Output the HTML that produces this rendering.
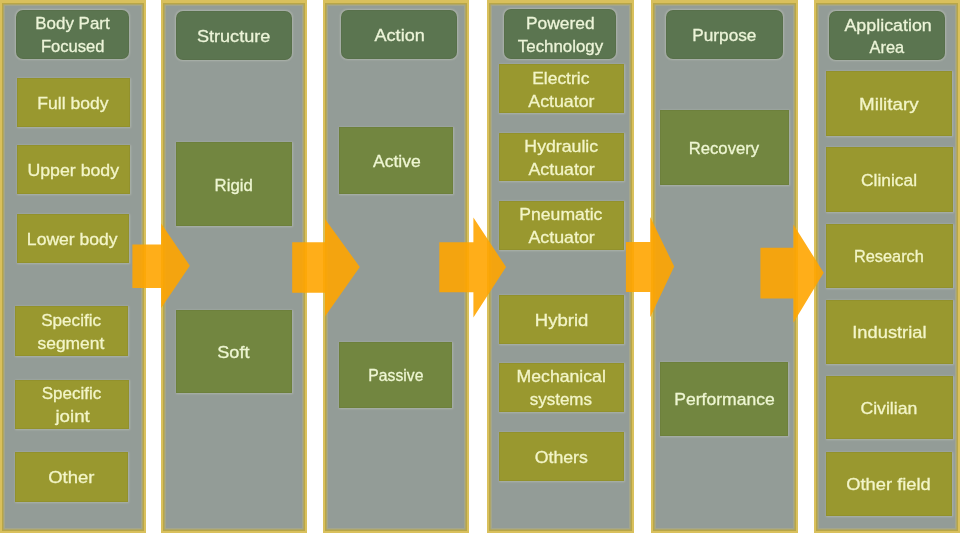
<!DOCTYPE html>
<html><head><meta charset="utf-8"><style>
html,body{margin:0;padding:0;background:#fff;}
body{width:960px;height:533px;position:relative;overflow:hidden;font-family:"Liberation Sans",sans-serif;}
.col{position:absolute;top:0;height:533.5px;box-sizing:border-box;background:#939c97;
 border:2.5px solid #d9c05c;border-top-width:3px;border-bottom-width:3px;
 box-shadow:inset 0 0 0 1.5px #b8a648, inset 0 0 0 3px #a4a68c;}
.b{position:absolute;display:flex;align-items:center;justify-content:center;flex-direction:column;
 color:#eef6d2;font-size:17px;line-height:22.5px;text-align:center;}
.t{background:#5b7550;border-radius:7px;color:#ecf4d8;}
.b{box-shadow:0 0 2px 0.5px rgba(205,208,195,0.45), inset 0 0 0 1px rgba(60,60,20,0.07);}
.o{color:#f3f5c8;}
.b span{display:block;white-space:nowrap;position:relative;top:1.7px;-webkit-text-stroke:0.3px currentColor;}
#w{position:absolute;left:0;top:0;width:960px;height:533px;will-change:transform;}
</style></head><body><div id="w">

<div class="col" style="left:0px;width:146px"></div>
<div class="col" style="left:160.7px;width:146.5px"></div>
<div class="col" style="left:322.8px;width:146.4px"></div>
<div class="col" style="left:487.1px;width:147.2px"></div>
<div class="col" style="left:651px;width:146.7px"></div>
<div class="col" style="left:814.4px;width:145.6px"></div>
<div class="b t" style="left:16px;top:9.8px;width:113.2px;height:48.8px"><span style="transform:translateX(0.15px) scaleX(0.996)">Body Part</span><span style="transform:translateX(0.15px) scaleX(0.976)">Focused</span></div>
<div class="b t" style="left:175.5px;top:11px;width:116.8px;height:49px"><span style="transform:translateX(0.13px) scaleX(1.063)">Structure</span></div>
<div class="b t" style="left:341.1px;top:9.7px;width:115.9px;height:49.1px"><span style="transform:translateX(1.02px) scaleX(1.063)">Action</span></div>
<div class="b t" style="left:503.9px;top:9.3px;width:112.2px;height:49.3px"><span style="transform:translateX(0.71px) scaleX(1.022)">Powered</span><span style="transform:translateX(0.50px) scaleX(0.993)">Technology</span></div>
<div class="b t" style="left:665.8px;top:9.7px;width:117.2px;height:49.1px"><span style="transform:translateX(-0.30px) scaleX(1.013)">Purpose</span></div>
<div class="b t" style="left:829.4px;top:11.3px;width:116.1px;height:48.6px"><span style="transform:translateX(0.52px) scaleX(1.051)">Application</span><span style="transform:translateX(-0.07px) scaleX(0.964)">Area</span></div>
<div class="b o" style="left:17px;top:78.1px;width:113px;height:48.8px;background:#99982f"><span style="transform:translateX(-0.57px) scaleX(1.031)">Full body</span></div>
<div class="b o" style="left:17px;top:144.8px;width:113px;height:48.9px;background:#99982f"><span style="transform:translateX(-0.69px) scaleX(1.043)">Upper body</span></div>
<div class="b o" style="left:16.5px;top:213.8px;width:112.5px;height:49.2px;background:#99982f"><span style="transform:translateX(-0.72px) scaleX(1.032)">Lower body</span></div>
<div class="b o" style="left:14.6px;top:306.3px;width:113.4px;height:49.3px;background:#99982f"><span style="transform:translateX(-0.65px) scaleX(1.005)">Specific</span><span style="transform:translateX(-0.67px) scaleX(1.023)">segment</span></div>
<div class="b o" style="left:14.6px;top:379.5px;width:114.3px;height:49px;background:#99982f"><span style="transform:translateX(-0.20px) scaleX(1.000)">Specific</span><span style="transform:translateX(0.98px) scaleX(1.100)">joint</span></div>
<div class="b o" style="left:15.1px;top:452.2px;width:112.9px;height:49.7px;background:#99982f"><span style="transform:translateX(0.05px) scaleX(1.085)">Other</span></div>
<div class="b" style="left:175.7px;top:142.4px;width:116.3px;height:83.6px;background:#728640"><span style="transform:translateX(0.35px) scaleX(0.986)">Rigid</span></div>
<div class="b" style="left:175.7px;top:309.7px;width:116.3px;height:83.6px;background:#728640"><span style="transform:translateX(-0.79px) scaleX(1.066)">Soft</span></div>
<div class="b" style="left:339.4px;top:127.1px;width:113.5px;height:66.9px;background:#728640"><span style="transform:translateX(0.72px) scaleX(1.036)">Active</span></div>
<div class="b" style="left:339.4px;top:341.7px;width:113.1px;height:66px;background:#728640"><span style="transform:translateX(0.15px) scaleX(0.926)">Passive</span></div>
<div class="b o" style="left:499px;top:64.2px;width:124.5px;height:49.3px;background:#99982f"><span style="transform:translateX(-0.09px) scaleX(1.026)">Electric</span><span style="transform:translateX(-0.26px) scaleX(1.046)">Actuator</span></div>
<div class="b o" style="left:499.3px;top:132.5px;width:124.4px;height:48.7px;background:#99982f"><span style="transform:translateX(-0.20px) scaleX(1.041)">Hydraulic</span><span style="transform:translateX(-0.05px) scaleX(1.046)">Actuator</span></div>
<div class="b o" style="left:499.3px;top:200.9px;width:124.4px;height:48.7px;background:#99982f"><span style="transform:translateX(-0.30px) scaleX(1.033)">Pneumatic</span><span style="transform:translateX(-0.05px) scaleX(1.046)">Actuator</span></div>
<div class="b o" style="left:499.3px;top:294.8px;width:124.7px;height:49px;background:#99982f"><span style="transform:translateX(0.01px) scaleX(1.089)">Hybrid</span></div>
<div class="b o" style="left:499.3px;top:363px;width:124.7px;height:48.5px;background:#99982f"><span style="transform:translateX(-0.81px) scaleX(1.038)">Mechanical</span><span style="transform:translateX(-0.30px) scaleX(0.997)">systems</span></div>
<div class="b o" style="left:498.9px;top:431.9px;width:124.9px;height:49px;background:#99982f"><span style="transform:translateX(-0.21px) scaleX(1.041)">Others</span></div>
<div class="b" style="left:660.3px;top:109.9px;width:128.3px;height:75.2px;background:#728640"><span style="transform:translateX(-0.98px) scaleX(0.980)">Recovery</span></div>
<div class="b" style="left:660.3px;top:361.8px;width:128.1px;height:74.3px;background:#728640"><span style="transform:translateX(-0.20px) scaleX(1.032)">Performance</span></div>
<div class="b o" style="left:825.5px;top:71.4px;width:126.8px;height:64.4px;background:#99982f"><span style="transform:translateX(-0.06px) scaleX(1.106)">Military</span></div>
<div class="b o" style="left:825.5px;top:147.4px;width:127px;height:64.3px;background:#99982f"><span style="transform:translateX(-0.36px) scaleX(1.021)">Clinical</span></div>
<div class="b o" style="left:825.5px;top:223.7px;width:127px;height:63.9px;background:#99982f"><span style="transform:translateX(-0.48px) scaleX(0.961)">Research</span></div>
<div class="b o" style="left:825.5px;top:299.5px;width:127px;height:64.5px;background:#99982f"><span style="transform:translateX(-0.09px) scaleX(1.076)">Industrial</span></div>
<div class="b o" style="left:825.5px;top:376px;width:127px;height:63.4px;background:#99982f"><span style="transform:translateX(-0.52px) scaleX(1.038)">Civilian</span></div>
<div class="b o" style="left:825.5px;top:451.9px;width:126.8px;height:64.1px;background:#99982f"><span style="transform:translateX(-0.70px) scaleX(1.077)">Other field</span></div>
<svg width="960" height="533" style="position:absolute;left:0;top:0">
<polygon points="132.4,244.6 161.2,244.6 161.2,223.4 189.8,265.7 161.2,308 161.2,288 132.4,288" fill="#ffa500" fill-opacity="0.9"/>
<polygon points="292.2,242.2 325,242.2 325,219 359.8,267 325,316.6 325,292.7 292.2,292.7" fill="#ffa500" fill-opacity="0.9"/>
<polygon points="439.3,242.2 473.4,242.2 473.4,217.6 506,267 473.4,317.6 473.4,292.2 439.3,292.2" fill="#ffa500" fill-opacity="0.9"/>
<polygon points="625.9,242 650.2,242 650.2,217 674.2,266.5 650.2,317.3 650.2,292 625.9,292" fill="#ffa500" fill-opacity="0.9"/>
<polygon points="760.4,247.8 793.4,247.8 793.4,224.4 823.7,272.7 793.4,322.8 793.4,298.5 760.4,298.5" fill="#ffa500" fill-opacity="0.9"/>
</svg>
</div></body></html>
